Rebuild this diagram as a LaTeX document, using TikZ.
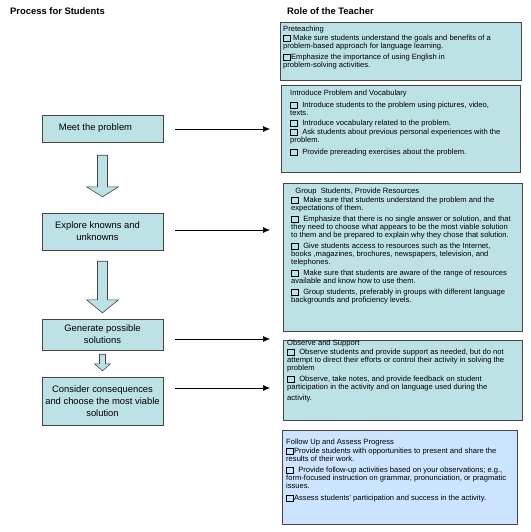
\documentclass[tikz,border=0pt]{standalone}
\usepackage{fontspec}
\setmainfont{Liberation Sans}
\usetikzlibrary{arrows.meta,calc}
\definecolor{boxteal}{RGB}{188,226,229}
\definecolor{boxblue}{RGB}{204,228,255}
\definecolor{boxline}{RGB}{70,70,70}
\newcommand{\chk}{{\setlength{\fboxsep}{0pt}\setlength{\fboxrule}{0.8pt}\fbox{\rule{0pt}{4.8pt}\rule{6.3pt}{0pt}}}}

\begin{document}
\begin{tikzpicture}[x=1pt,y=-1pt,
	stepbox/.style={draw=boxline,fill=boxteal,minimum width=121pt,align=center,inner sep=0pt,font=\fontsize{9.4}{12.2}\selectfont},
	rolebox/.style={draw=boxline,fill=boxteal,anchor=north west,inner sep=0pt},
	roletext/.style={anchor=north west,align=left,inner sep=0pt,font=\fontsize{7.6}{8}\selectfont},
	heading/.style={anchor=west,inner sep=0pt,font=\fontsize{9.4}{10}\selectfont\bfseries},
	blockarrow/.style={draw=boxline,fill=boxteal,line width=0.6pt},
	conn/.style={draw,line width=0.6pt,-{Latex[length=7pt,width=6pt]},shorten <=12pt}]
	\useasboundingbox (0,0) rectangle (530,532);
	
	\node[heading] (students) at (10,11) {Process for Students};
	\node[heading] (teacher) at (287,11) {Role of the Teacher};
	
	% process steps
	\node[stepbox,minimum height=27pt] (meet) at (102.5,128.5) {\hspace*{-14pt}Meet the problem};
	\node[stepbox,minimum height=37pt] (explore) at (102.5,231.5) {\hspace*{-10pt}Explore knowns and\\\hspace*{-10pt}unknowns};
	\node[stepbox,minimum height=31pt] (generate) at (102.5,334.5) {Generate possible\\solutions};
	\node[stepbox,minimum height=48pt] (consider) at (102.5,401) {Consider consequences\\and choose the most viable\\solution};
	
	% teacher boxes
	\node[rolebox,minimum width=241pt,minimum height=58pt] (pre) at (280,22) {};
	\node[rolebox,minimum width=239pt,minimum height=87pt] (intro) at (281,85) {};
	\node[rolebox,minimum width=239pt,minimum height=148pt] (group) at (283,183) {};
	\node[rolebox,minimum width=239pt,minimum height=80pt] (obs) at (283,340) {};
	\node[rolebox,fill=boxblue,minimum width=235pt,minimum height=94pt] (follow) at (282,430) {};
	\foreach \b in {pre,intro,group,obs,follow}
		\draw[boxline,line width=1.1pt] (\b.north east) -- (\b.south east) -- (\b.south west);
	
	\node[roletext] (pretxt) at ([shift={(3,4)}]pre.north west) {Preteaching\\[1pt]
		\chk\ Make sure students understand the goals and benefits of a\\
		problem-based approach for language learning.\\[3pt]
		\chk Emphasize the importance of using English in\\
		problem-solving activities.};
	\node[roletext] (introtxt) at ([shift={(9,5)}]intro.north west) {Introduce Problem and Vocabulary\\[4pt]
		\chk\ \ Introduce students to the problem using pictures, video,\\
		texts.\\[2pt]
		\chk\ \ Introduce vocabulary related to the problem.\\[1pt]
		\chk\ \ Ask students about previous personal experiences with the\\
		problem.\\[4pt]
		\chk\ \ Provide prereading exercises about the problem.};
	\node[roletext] (grouptxt) at ([shift={(8,5)}]group.north west) {\ \ Group\ \ Students, Provide Resources\\[1pt]
		\chk\ \ Make sure that students understand the problem and the\\
		expectations of them.\\[3pt]
		\chk\ \ Emphasize that there is no single answer or solution, and that\\
		they need to choose what appears to be the most viable solution\\
		to them and be prepared to explain why they chose that solution.\\[3pt]
		\chk\ \ Give students access to resources such as the Internet,\\
		books ,magazines, brochures, newspapers, television, and\\
		telephones.\\[3pt]
		\chk\ \ Make sure that students are aware of the range of resources\\
		available and know how to use them.\\[3pt]
		\chk\ \ Group students, preferably in groups with different language\\
		backgrounds and proficiency levels.};
	\node[roletext] (obstxt) at ([shift={(4,0)}]obs.north west) {Observe and Support\\[1pt]
		\chk\ \ Observe students and provide support as needed, but do not\\
		attempt to direct their efforts or control their activity in solving the\\
		problem\\[3pt]
		\chk\ \ Observe, take notes, and provide feedback on student\\
		participation in the activity and on language used during the\\[3pt]
		activity.};
	\node[roletext] (followtxt) at ([shift={(4,9)}]follow.north west) {Follow Up and Assess Progress\\[1pt]
		\chk Provide students with opportunities to present and share the\\
		results of their work.\\[3pt]
		\chk\ \ Provide follow-up activities based on your observations; e.g.,\\
		form-focused instruction on grammar, pronunciation, or pragmatic\\
		issues.\\[4pt]
		\chk Assess students' participation and success in the activity.};
	
	% block arrows between the steps
	\foreach \from/\to/\ga/\gb/\sw/\hw/\hl in {meet/explore/13/16/5/16/10, explore/generate/11/6/5/16/13, generate/consider/4/6/3/8/7}
	{
		\path ($(\from.south)+(0,\ga)$) coordinate (top) ($(\to.north)-(0,\gb)$) coordinate (tip);
		\draw[blockarrow] ([xshift=-\sw pt]top) -- ([xshift=\sw pt]top) -- ([xshift=\sw pt,yshift=\hl pt]tip) -- ([xshift=\hw pt,yshift=\hl pt]tip) -- (tip) -- ([xshift=-\hw pt,yshift=\hl pt]tip) -- ([xshift=-\sw pt,yshift=\hl pt]tip) -- cycle;
	}
	
	% arrows to the teacher
	\coordinate (t1) at (270,129);
	\coordinate (t2) at (270,230);
	\coordinate (t3) at (270,339);
	\coordinate (t4) at (270,388);
	\draw[conn] (meet.east |- t1) -- (t1);
	\draw[conn] (explore.east |- t2) -- (t2);
	\draw[conn] (generate.east |- t3) -- (t3);
	\draw[conn] (consider.east |- t4) -- (t4);
	
\end{tikzpicture}
\end{document}
